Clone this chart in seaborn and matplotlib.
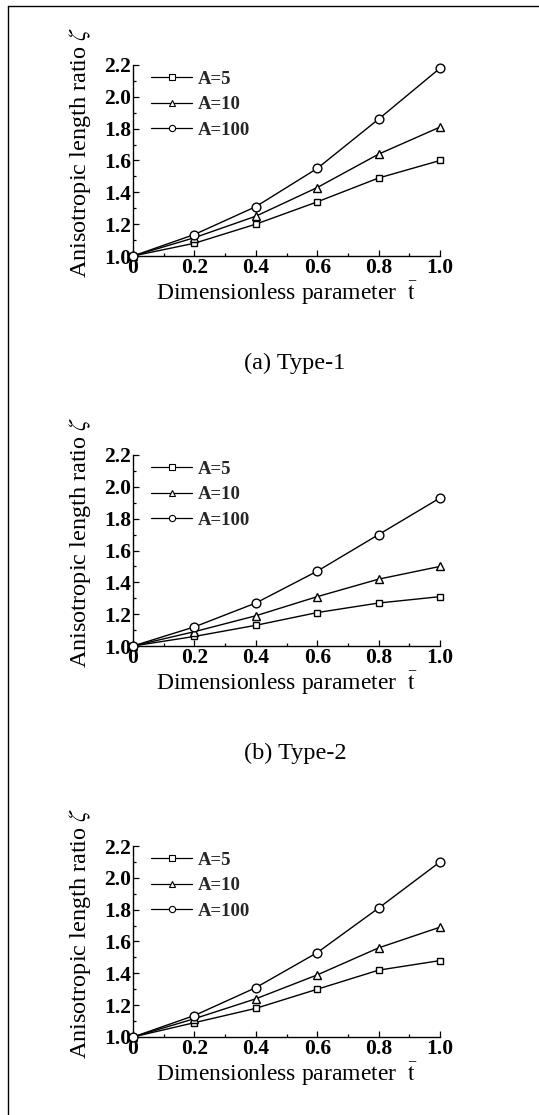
import numpy as np
import pandas as pd
import matplotlib
matplotlib.use("Agg")
import matplotlib.pyplot as plt
import seaborn as sns
from matplotlib.lines import Line2D
from matplotlib.ticker import MultipleLocator, FixedLocator, FixedFormatter

sns.set_theme(style="ticks")
plt.rcParams['font.family'] = ['Liberation Serif', 'DejaVu Serif']
plt.rcParams['mathtext.fontset'] = 'stix'

# ---- data ----
t_values = [0.0, 0.2, 0.4, 0.6, 0.8, 1.0]
series_names = ["A=5", "A=10", "A=100"]
type1_A5 = [1.00, 1.08, 1.20, 1.34, 1.49, 1.60]
type1_A10 = [1.00, 1.115, 1.25, 1.43, 1.64, 1.81]
type1_A100 = [1.00, 1.135, 1.31, 1.55, 1.86, 2.18]
type2_A5 = [1.00, 1.06, 1.13, 1.21, 1.27, 1.31]
type2_A10 = [1.00, 1.09, 1.19, 1.31, 1.42, 1.50]
type2_A100 = [1.00, 1.12, 1.27, 1.47, 1.70, 1.93]
type3_A5 = [1.00, 1.09, 1.18, 1.30, 1.42, 1.48]
type3_A10 = [1.00, 1.115, 1.24, 1.39, 1.56, 1.69]
type3_A100 = [1.00, 1.135, 1.31, 1.53, 1.81, 2.10]
captions = ["(a) Type-1", "(b) Type-2", None]
x_tick_values = [0.0, 0.2, 0.4, 0.6, 0.8, 1.0]
x_tick_labels = ["0", "0.2", "0.4", "0.6", "0.8", "1.0"]
y_tick_values = [1.0, 1.2, 1.4, 1.6, 1.8, 2.0, 2.2]
y_tick_labels = ["1.0", "1.2", "1.4", "1.6", "1.8", "2.0", "2.2"]

panels = [
    [type1_A5, type1_A10, type1_A100],
    [type2_A5, type2_A10, type2_A100],
    [type3_A5, type3_A10, type3_A100],
]
markers = {"A=5": "s", "A=10": "^", "A=100": "o"}
msizes = {"A=5": 5.0, "A=10": 5.5, "A=100": 6.3}

W, H = 539, 1115
fig = plt.figure(figsize=(W / 100, H / 100), dpi=100)
fig.patch.set_facecolor("white")

# frame lines of the original scan
fig.add_artist(Line2D([8 / W, 8 / W], [0, 1 - 6 / H], color="black", lw=1.0))
fig.add_artist(Line2D([8 / W, 1], [1 - 6 / H, 1 - 6 / H], color="black", lw=1.0))

ax_left, ax_right = 133, 440
tops = [65, 455, 846]
bottoms = [256, 646, 1037]

for i, vals in enumerate(panels):
    rows = []
    for name, ys in zip(series_names, vals):
        for t, y in zip(t_values, ys):
            rows.append({"t": t, "zeta": y, "A": name})
    df = pd.DataFrame(rows)
    ax = fig.add_axes([ax_left / W, 1 - bottoms[i] / H,
                       (ax_right - ax_left) / W, (bottoms[i] - tops[i]) / H])
    ax.set_facecolor("white")
    sns.lineplot(data=df, x="t", y="zeta", hue="A", style="A",
                 palette=["black"] * 3, markers=markers, dashes=False,
                 legend=False, ax=ax, lw=1.0, markerfacecolor="white",
                 markeredgecolor="black", markeredgewidth=1.0, clip_on=False,
                 zorder=3)
    for line, name in zip(ax.lines, series_names):
        line.set_markersize(msizes[name])
        line.set_label(name)
    leg = ax.legend(handles=ax.lines[:3], labels=series_names, loc="upper left",
                    frameon=False, handlelength=2.2, handletextpad=0.3,
                    labelspacing=0.45, borderaxespad=0.0,
                    bbox_to_anchor=(0.035, 1.01),
                    prop={"family": "Liberation Serif", "weight": "bold", "size": 13.5})
    for h in leg.legend_handles:
        h.set_markersize(4.5)
        h.set_markeredgewidth(0.8)
        h.set_linewidth(0.9)

    ax.set_xlim(0, 1.0)
    ax.set_ylim(1.0, 2.2)
    ax.xaxis.set_major_locator(FixedLocator(x_tick_values))
    ax.xaxis.set_major_formatter(FixedFormatter(x_tick_labels))
    ax.yaxis.set_major_locator(FixedLocator(y_tick_values))
    ax.yaxis.set_major_formatter(FixedFormatter(y_tick_labels))
    ax.xaxis.set_minor_locator(MultipleLocator(0.1))
    ax.yaxis.set_minor_locator(MultipleLocator(0.1))
    ax.tick_params(which="both", direction="in", color="black", width=0.9)
    ax.tick_params(which="major", length=4.5, pad=1.5)
    ax.tick_params(which="minor", length=2.5)
    for lab in ax.get_xticklabels() + ax.get_yticklabels():
        lab.set_fontweight("bold")
        lab.set_fontsize(15.5)
        lab.set_color("black")
    sns.despine(ax=ax)
    for s in ["left", "bottom"]:
        ax.spines[s].set_color("black")
        ax.spines[s].set_linewidth(1.0)
    ax.set_xlabel(r"Dimensionless parameter  $\bar{\mathrm{t}}$", fontsize=17,
                  color="black", labelpad=1)
    ax.set_ylabel(r"Anisotropic length ratio $\zeta$", fontsize=17.5,
                  color="black", labelpad=4)
    ax.yaxis.set_label_coords(-0.13, 0.54)
    if captions[i]:
        fig.text(295 / W, 1 - (bottoms[i] + 107) / H, captions[i], ha="center",
                 va="center", fontsize=17.5, color="black")

fig.savefig("out.png", dpi=100, facecolor="white")
